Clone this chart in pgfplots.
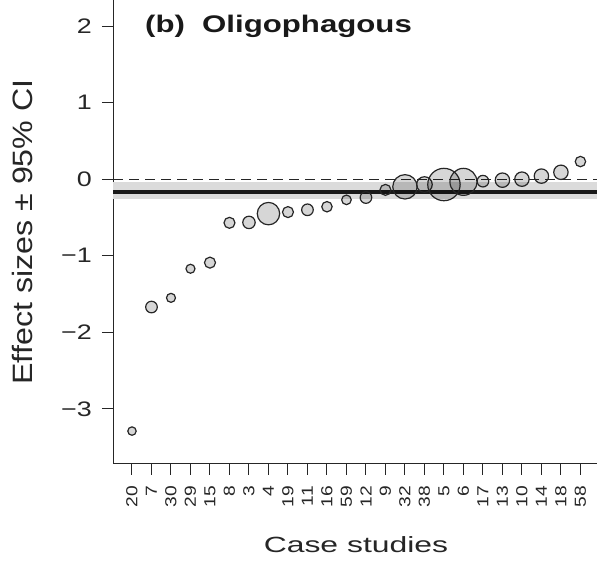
\documentclass[border=0pt]{standalone}
\usepackage{pgfplots}
\pgfplotsset{compat=1.18}
\usepackage{pgfplotstable}
\usepackage{graphicx}
\usepackage{fontspec}
\setmainfont{Liberation Sans}

% the original lettering is wider than Arial, so stretch it sideways
\newcommand{\Y}[1]{\scalebox{1.28}[1]{#1}}
\newcommand{\X}[1]{\scalebox{1.2}[1]{#1}}

% case study, effect size, circle radius (pt)
\pgfplotstableread{
x  lab  y      r
1  20   -3.29  4.2
2  7    -1.67  5.8
3  30   -1.55  4.5
4  29   -1.17  4.5
5  15   -1.09  5.5
6  8    -0.57  5.5
7  3    -0.565 6.2
8  4    -0.45  11.2
9  19   -0.43  5.5
10 11   -0.40  5.8
11 16   -0.36  5.2
12 59   -0.27  4.8
13 12   -0.24  5.8
14 9    -0.14  5.5
15 32   -0.10  12.2
16 38   -0.07  7.8
17 5    -0.07  16.2
18 6    -0.035 13.5
19 17   -0.026 5.8
20 13   -0.013 7.2
21 10   0.00   7.2
22 14   0.04   7.2
23 18   0.09   7.2
24 58   0.23   5.2
}\effects

\begin{document}
\begin{tikzpicture}
\begin{axis}[
    at={(113pt,98pt)}, anchor=south west,
    scale only axis,
    width=484pt, height=464pt,
    xmin=0.026, xmax=24.85,
    ymin=-3.72, ymax=2.34,
    axis x line*=bottom,
    axis y line*=left,
    axis line style={line width=1pt, black!85, -},
    tick align=outside,
    major tick length=11pt,
    tick style={line width=1pt, black!85},
    xtick={1,...,24},
    xticklabels={\X{20},\X{7},\X{30},\X{29},\X{15},\X{8},\X{3},\X{4},\X{19},\X{11},\X{16},\X{59},
                 \X{12},\X{9},\X{32},\X{38},\X{5},\X{6},\X{17},\X{13},\X{10},\X{14},\X{18},\X{58}},
    xticklabel style={rotate=90, anchor=east, inner sep=0pt,
                      font=\fontsize{16}{16}\selectfont, text=black!85},
    xticklabel shift=11pt,
    ytick={-3,-2,-1,0,1,2},
    yticklabels={\Y{−3},\Y{−2},\Y{−1},\Y{0},\Y{1},\Y{2}},
    yticklabel style={inner sep=0pt, font=\fontsize{21}{21}\selectfont, text=black!85},
    yticklabel shift=10pt,
    xlabel={\scalebox{1.45}[1]{Case studies}},
    xlabel style={at={(axis description cs:0.502,-0.1918)}, anchor=base,
                  inner sep=0pt, font=\fontsize{22}{22}\selectfont, text=black!85},
    ylabel={\scalebox{1.15}[1]{Effect sizes ± 95\% CI}},
    ylabel style={at={(axis description cs:-0.1653,0.5)}, anchor=south,
                  inner sep=0pt, font=\fontsize{28}{28}\selectfont, text=black!85},
    clip=false,
]

% confidence band of the overall effect
\addplot[draw=none, fill=black!14] coordinates {
    (0.026,-0.043) (24.85,-0.043) (24.85,-0.265) (0.026,-0.265)} -- cycle;

% zero reference
\addplot[black!85, line width=1pt, dash pattern=on 10pt off 6pt] coordinates {
    (0.026,0) (24.85,0)};

% overall effect
\addplot[black!90, line width=4pt] coordinates {
    (0.026,-0.166) (24.85,-0.166)};

% case studies
\addplot[
    scatter, only marks, mark=*,
    visualization depends on={\thisrow{r} \as \rad},
    scatter/use mapped color={draw=black!85, fill=black, fill opacity=0.16},
    scatter/@pre marker code/.append style={/tikz/mark size=\rad pt},
    mark options={line width=1.2pt},
] table[x=x, y=y] {\effects};

\node[anchor=base west, inner sep=0pt, font=\fontsize{24}{24}\selectfont\bfseries,
      text=black!90] at (rel axis cs:0.066,0.931)
      {\scalebox{1.3}[1]{(b)\hspace{0.55em}Oligophagous}};

\end{axis}
\pgfresetboundingbox
\path[use as bounding box] (0,0) rectangle (597pt,562pt);
\end{tikzpicture}
\end{document}
